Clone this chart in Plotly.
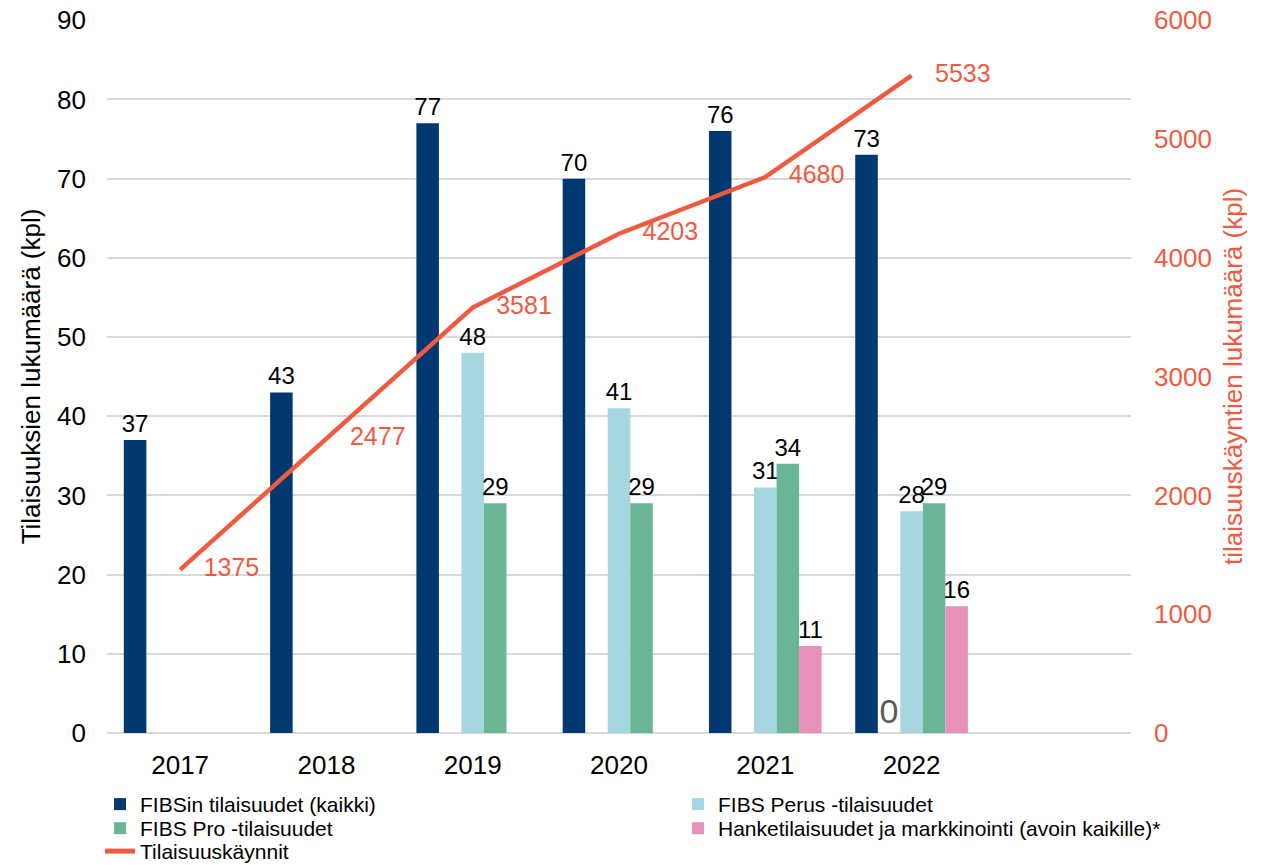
import plotly.graph_objects as go

years = ["2017", "2018", "2019", "2020", "2021", "2022"]
fibs_all = [37, 43, 77, 70, 76, 73]
hidden_zero = [None, None, None, None, None, 0]
fibs_perus = [None, None, 48, 41, 31, 28]
fibs_pro = [None, None, 29, 29, 34, 29]
hanke = [None, None, None, None, 11, 16]
visits = [1375, 2477, 3581, 4203, 4680, 5533]

FONT = "Liberation Sans, Arial, sans-serif"
ORANGE = "#F05A40"
FS = 26
LFS = 24

def labels(vals):
    return ["" if v is None else str(v) for v in vals]

fig = go.Figure()
lbl_font = dict(family=FONT, size=LFS, color="#000000")

fig.add_trace(go.Bar(x=years, y=fibs_all, name="FIBSin tilaisuudet (kaikki)",
                     marker=dict(color="#00386F", line=dict(width=0)),
                     text=labels(fibs_all), textposition="outside",
                     textfont=lbl_font, constraintext="none", cliponaxis=False,
                     legend="legend"))
fig.add_trace(go.Bar(x=years, y=hidden_zero, name="", showlegend=False,
                     marker=dict(color="rgba(0,0,0,0)", line=dict(width=0)),
                     text=labels(hidden_zero), textposition="outside",
                     textfont=dict(family=FONT, size=34, color="#595959"),
                     constraintext="none", cliponaxis=False, hoverinfo="skip"))
fig.add_trace(go.Bar(x=years, y=fibs_perus, name="FIBS Perus -tilaisuudet",
                     marker=dict(color="#A6D7E1", line=dict(width=0)),
                     text=labels(fibs_perus), textposition="outside",
                     textfont=lbl_font, constraintext="none", cliponaxis=False,
                     legend="legend2"))
fig.add_trace(go.Bar(x=years, y=fibs_pro, name="FIBS Pro -tilaisuudet",
                     marker=dict(color="#69B595", line=dict(width=0)),
                     text=labels(fibs_pro), textposition="outside",
                     textfont=lbl_font, constraintext="none", cliponaxis=False,
                     legend="legend3"))
fig.add_trace(go.Bar(x=years, y=hanke, name="Hanketilaisuudet ja markkinointi (avoin kaikille)*",
                     marker=dict(color="#E690BA", line=dict(width=0)),
                     text=labels(hanke), textposition="outside",
                     textfont=lbl_font, constraintext="none", cliponaxis=False,
                     legend="legend4"))
fig.add_trace(go.Scatter(x=years, y=visits, name="Tilaisuuskäynnit", yaxis="y2",
                         mode="lines+markers+text", line=dict(color=ORANGE, width=4.5),
                         marker=dict(size=36, color="rgba(0,0,0,0)", line=dict(width=0)),
                         text=[str(v) for v in visits], textposition="middle right",
                         textfont=dict(family=FONT, size=LFS + 1, color=ORANGE),
                         cliponaxis=False, legend="legend5"))

legend_common = dict(orientation="v", yanchor="top", xanchor="left",
                     font=dict(family=FONT, size=21, color="#000000"),
                     itemsizing="constant", tracegroupgap=0,
                     bgcolor="rgba(0,0,0,0)", traceorder="normal")

LX1, LX2 = -0.0068, 0.5576
LY1, LY2, LY3 = -0.0715, -0.1052, -0.1374

fig.update_layout(
    width=1273, height=865,
    margin=dict(l=107, r=142, t=20, b=132, autoexpand=False),
    paper_bgcolor="white", plot_bgcolor="white",
    font=dict(family=FONT, size=FS, color="#000000"),
    barmode="group", bargap=0.23, bargroupgap=0,
    xaxis=dict(type="category", categoryorder="array", categoryarray=years,
               range=[-0.5, 6.5], showgrid=False, showline=False, zeroline=False,
               ticks="", tickfont=dict(family=FONT, size=FS, color="#000000"),
               ticklabelstandoff=14, automargin=False),
    yaxis=dict(range=[0, 90.03], tick0=0, dtick=10, showgrid=True, gridcolor="#D9D9D9",
               gridwidth=1.5, zeroline=True, zerolinecolor="#D9D9D9", zerolinewidth=1.5,
               showline=False, ticks="", ticklabelstandoff=20, automargin=False,
               tickfont=dict(family=FONT, size=FS, color="#000000"),
               title=dict(text="Tilaisuuksien lukumäärä (kpl)", standoff=8,
                          font=dict(family=FONT, size=FS, color="#000000"))),
    yaxis2=dict(range=[0, 6002], tick0=0, dtick=1000, overlaying="y", side="right",
                showgrid=False, zeroline=False, showline=False, ticks="",
                ticklabelstandoff=22, automargin=False,
                tickfont=dict(family=FONT, size=FS, color=ORANGE),
                title=dict(text="tilaisuuskäyntien lukumäärä (kpl)", standoff=12,
                           font=dict(family=FONT, size=FS, color=ORANGE))),
    legend=dict(x=LX1, y=LY1, **legend_common),
    legend2=dict(x=LX2, y=LY1, **legend_common),
    legend3=dict(x=LX1, y=LY2, **legend_common),
    legend4=dict(x=LX2, y=LY2, **legend_common),
    legend5=dict(x=LX1, y=LY3, **legend_common),
    showlegend=True,
)

fig.write_html("out.html", config={"displayModeBar": False},
               post_script="document.body.style.margin='0px';document.body.style.overflow='hidden';")
